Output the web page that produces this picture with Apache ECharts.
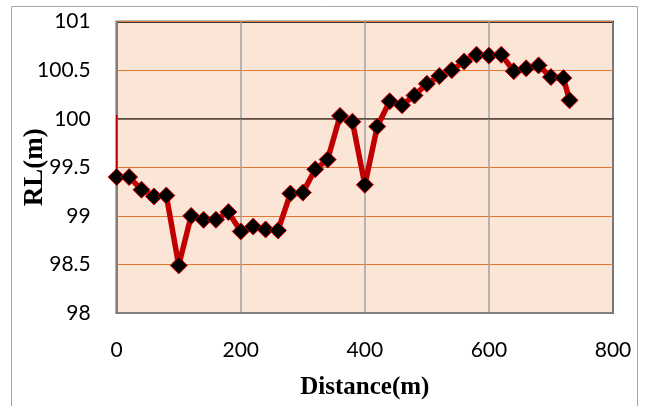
<!DOCTYPE html>
<html>
<head>
<meta charset="utf-8">
<script src="https://cdn.jsdelivr.net/npm/echarts@6/dist/echarts.min.js"></script>
<style>
html,body{margin:0;padding:0;background:#fff;}
#chart{width:655px;height:406px;}
</style>
</head>
<body>
<div id="chart"></div>
<script>
var distances = [0,20,40,60,80,100,120,140,160,180,200,220,240,260,280,300,320,340,360,380,400,420,440,460,480,500,520,540,560,580,600,620,640,660,680,700,720,730];
var rlValues = [99.40,99.40,99.27,99.20,99.21,98.49,99.00,98.96,98.96,99.04,98.84,98.89,98.86,98.85,99.23,99.24,99.48,99.58,100.03,99.97,99.32,99.92,100.18,100.14,100.24,100.36,100.44,100.50,100.59,100.66,100.65,100.66,100.49,100.52,100.55,100.43,100.42,100.19];
var refX = [0, 808];
var refY = [100, 100];
var startX = [0, 0];
var startY = [100.04, 99.40];
var xTicks = [0, 200, 400, 600, 800];
var yTicks = [98, 98.5, 99, 99.5, 100, 100.5, 101];

var mainData = distances.map(function(d,i){return [d, rlValues[i]];});
var refData = refX.map(function(d,i){return [d, refY[i]];});
var startData = startX.map(function(d,i){return [d, startY[i]];});

var chart = echarts.init(document.getElementById('chart'));
chart.setOption({
  animation: false,
  backgroundColor: '#ffffff',
  graphic: [{
    type: 'rect', z: -10,
    shape: {x: 11.5, y: 6.5, width: 626, height: 420},
    style: {fill: 'none', stroke: '#a6a6a6', lineWidth: 1}
  }],
  grid: {
    left: 116.7, right: 42, top: 21.7, bottom: 93,
    show: true, backgroundColor: '#FBE5D6',
    borderColor: '#000000', borderWidth: 2
  },
  xAxis: {
    type: 'value', min: xTicks[0], max: xTicks[xTicks.length-1], interval: 200,
    name: 'Distance(m)', nameLocation: 'middle', nameGap: 62, nameMoveOverlap: false,
    nameTextStyle: {fontFamily: 'Liberation Serif', fontWeight: 'bold', fontSize: 25, color: '#000'},
    axisLine: {show: true, onZero: false, lineStyle: {color: '#7f7f7f', width: 2}},
    axisTick: {show: false},
    axisLabel: {margin: 27, fontFamily: 'Lato', fontSize: 21, color: '#000'},
    splitLine: {show: true, lineStyle: {color: '#a0a0a0', width: 1.5}}
  },
  yAxis: {
    type: 'value', min: yTicks[0], max: yTicks[yTicks.length-1], interval: 0.5,
    name: 'RL(m)', nameLocation: 'middle', nameGap: 68, nameMoveOverlap: false,
    nameTextStyle: {fontFamily: 'Liberation Serif', fontWeight: 'bold', fontSize: 27, color: '#000'},
    axisLine: {show: true, onZero: false, lineStyle: {color: '#7f7f7f', width: 2}},
    axisTick: {show: false},
    axisLabel: {margin: 26, fontFamily: 'Lato', fontSize: 21, color: '#000'},
    splitLine: {show: true, lineStyle: {color: '#E0782F', width: 1.2}}
  },
  series: [
    {
      type: 'line', data: refData, clip: false, symbol: 'none', z: 3,
      lineStyle: {color: '#4A5563', width: 1.5}
    },
    {
      type: 'line', data: startData, symbol: 'none', z: 4,
      lineStyle: {color: '#C00000', width: 1.5}
    },
    {
      type: 'line', data: mainData, z: 5,
      symbol: 'diamond', symbolSize: 17,
      lineStyle: {color: '#C00000', width: 5.5},
      itemStyle: {color: '#000000', borderColor: '#E00000', borderWidth: 1}
    }
  ]
});
</script>
</body>
</html>
